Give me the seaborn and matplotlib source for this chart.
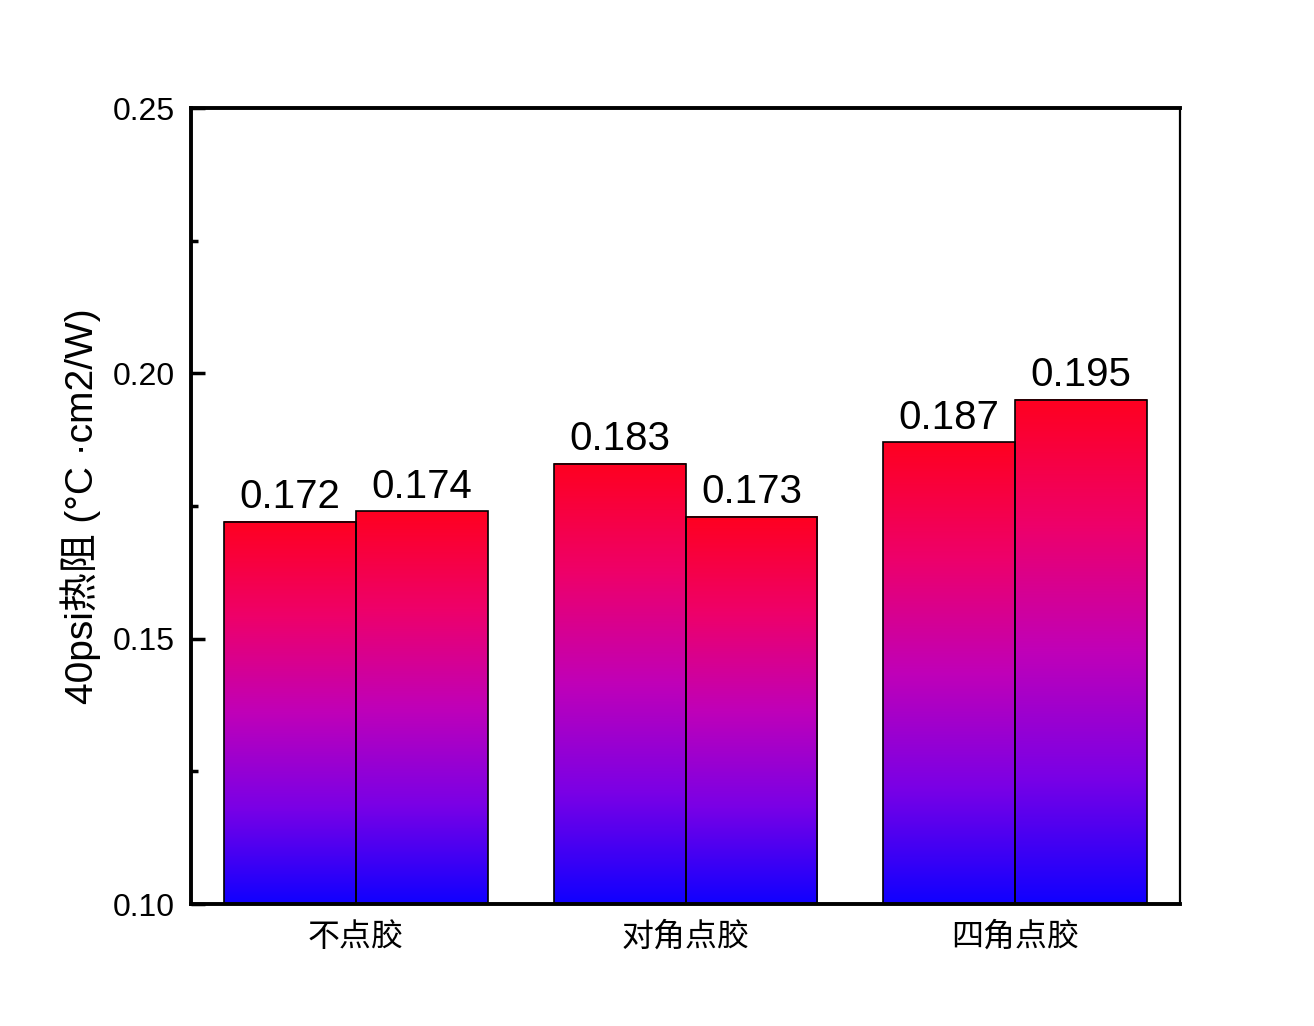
import numpy as np
import pandas as pd
import seaborn as sns
import matplotlib
matplotlib.use("Agg")
import matplotlib.pyplot as plt
from matplotlib.ticker import MultipleLocator

# data
categories = ["不点胶", "对角点胶", "四角点胶"]
series_names = ["A", "B"]
series_a = [0.172, 0.183, 0.187]
series_b = [0.174, 0.173, 0.195]
y_label = "40psi热阻 (°C ·cm2/W)"

df = pd.DataFrame({
    "cat": categories * 2,
    "series": [series_names[0]] * 3 + [series_names[1]] * 3,
    "value": series_a + series_b,
})

sns.set_style("white")
plt.rcParams["font.family"] = ["Liberation Sans", "Noto Sans CJK SC", "DejaVu Sans"]
plt.rcParams["text.color"] = "black"
plt.rcParams["axes.labelcolor"] = "black"
plt.rcParams["xtick.color"] = "black"
plt.rcParams["ytick.color"] = "black"

fig = plt.figure(figsize=(13.14, 10.26), dpi=100)
ax = fig.add_axes([0.1454, 0.1189, 0.898 - 0.1454, 0.8947 - 0.1189])

sns.barplot(data=df, x="cat", y="value", hue="series", hue_order=series_names,
            order=categories, width=0.8, gap=0, edgecolor="black", linewidth=1.2,
            legend=False, ax=ax, zorder=2)

ymin, ymax = 0.10, 0.25
# red (top) -> magenta -> blue (bottom)
stops = np.array([0.0, 0.25, 0.5, 0.75, 1.0])
stop_cols = np.array([
    [255, 0, 32],
    [238, 0, 106],
    [192, 0, 184],
    [122, 0, 230],
    [16, 0, 255],
]) / 255.0
t = np.linspace(0, 1, 256)
grad = np.stack([np.interp(t, stops, stop_cols[:, i]) for i in range(3)], axis=-1)
grad = grad.reshape(256, 1, 3)

for p in ax.patches:
    x0 = p.get_x()
    w = p.get_width()
    top = p.get_y() + p.get_height()
    ax.imshow(grad, extent=[x0, x0 + w, ymin, top], origin="upper",
              aspect="auto", zorder=1.5, interpolation="bilinear")
    p.set_facecolor("none")

for c in ax.containers:
    ax.bar_label(c, fmt="%.3f", padding=4, fontsize=29, color="black",
                 family=["Liberation Sans"])

ax.set_xlim(-0.5, 2.5)
ax.set_ylim(ymin, ymax)
ax.yaxis.set_major_locator(MultipleLocator(0.05))
ax.yaxis.set_minor_locator(MultipleLocator(0.025))
ax.yaxis.set_major_formatter(plt.FormatStrFormatter("%.2f"))

ax.tick_params(axis="y", which="major", direction="in", length=10, width=2.5,
               pad=12, labelsize=23, left=True, colors="black")
ax.tick_params(axis="y", which="minor", direction="in", length=5, width=2.5,
               left=True, colors="black")
ax.tick_params(axis="x", length=0, pad=12, colors="black")
for lab in ax.get_xticklabels():
    lab.set_family(["Noto Sans CJK SC"])
    lab.set_fontsize(23)

for side in ["left", "bottom", "top"]:
    ax.spines[side].set_linewidth(2.8)
    ax.spines[side].set_color("black")
ax.spines["right"].set_linewidth(1.6)
ax.spines["right"].set_color("black")

ax.set_xlabel("")
ax.set_ylabel(y_label, fontsize=28, labelpad=8, color="black",
              family=["Liberation Sans", "Noto Sans CJK SC"])

fig.savefig("out.png", dpi=100)
